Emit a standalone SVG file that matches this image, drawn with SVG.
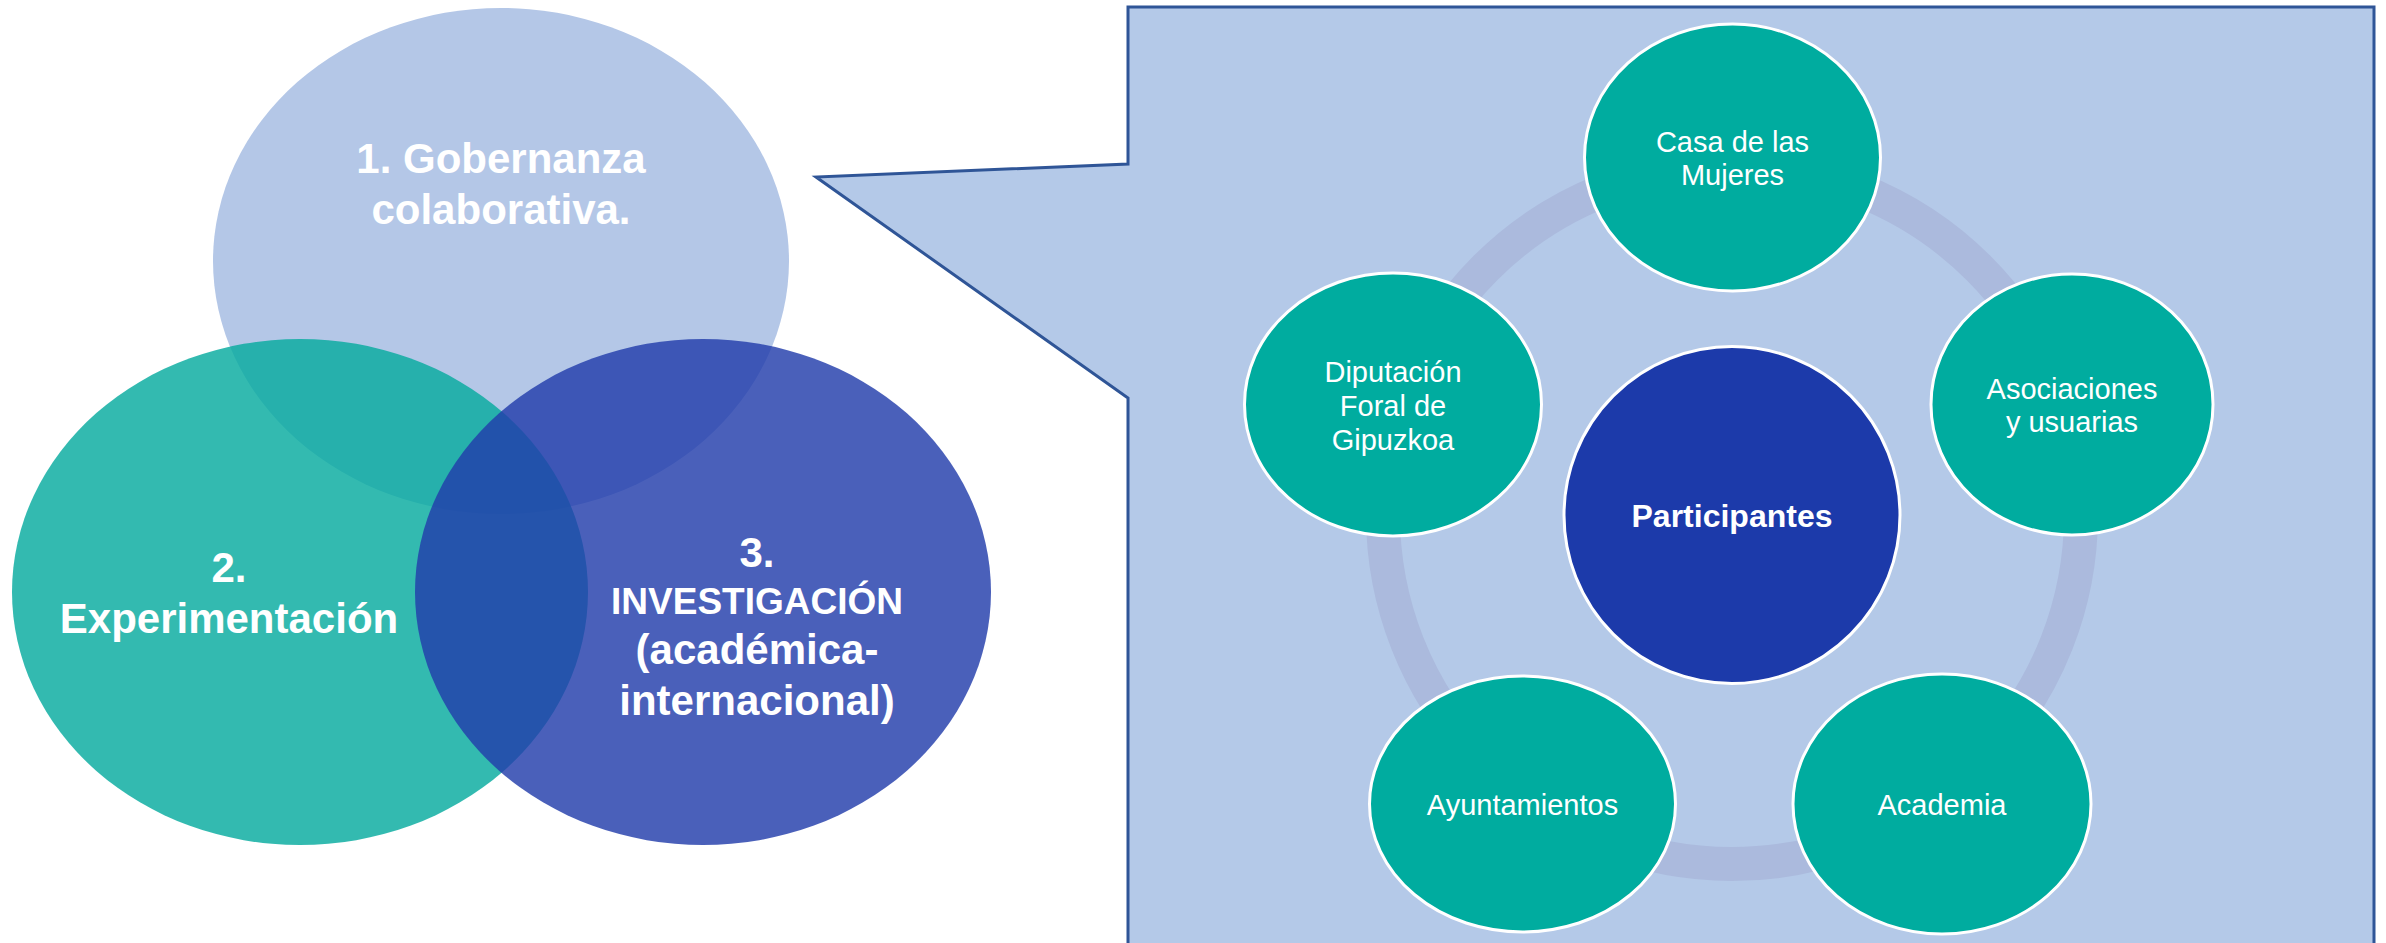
<svg xmlns="http://www.w3.org/2000/svg" width="2386" height="943" viewBox="0 0 2386 943">
  <style>
    .vt { font-family: "Liberation Sans", Arial, sans-serif; font-weight: bold; font-size: 42px; fill: #FFFFFF; text-anchor: middle; }
    .nt { font-family: "Liberation Sans", Arial, sans-serif; font-size: 29px; fill: #FFFFFF; text-anchor: middle; }
    .node { fill: #00AC9F; stroke: #FFFFFF; stroke-width: 3; }
    .center { fill: #1C3AAA; stroke: #FFFFFF; stroke-width: 3; }
  </style>
  <rect width="2386" height="943" fill="#FFFFFF"/>

  <!-- Venn diagram -->
  <g id="venn-gobernanza">
    <ellipse cx="501" cy="261" rx="288" ry="253" fill="#B4C7E7"/>
    <text class="vt" x="501" y="173">1. Gobernanza</text>
    <text class="vt" x="501" y="224">colaborativa.</text>
  </g>
  <g id="venn-experimentacion">
    <ellipse cx="300" cy="592" rx="288" ry="253" fill="#06AB9F" fill-opacity="0.82"/>
  </g>
  <g id="venn-investigacion">
    <ellipse cx="703" cy="592" rx="288" ry="253" fill="#223DAB" fill-opacity="0.82"/>
  </g>
  <g id="venn-labels">
    <text class="vt" x="229" y="582">2.</text>
    <text class="vt" x="229" y="633">Experimentación</text>
    <text class="vt" x="757" y="567">3.</text>
    <text class="vt" x="757" y="614" style="font-size:37px">INVESTIGACIÓN</text>
    <text class="vt" x="757" y="664">(académica-</text>
    <text class="vt" x="757" y="715">internacional)</text>
  </g>

  <!-- Callout panel -->
  <g id="callout">
    <path d="M1128,7 L2374,7 L2374,950 L1128,950 L1128,398 L816,177 L1128,164 Z" fill="#B4C9E8" stroke="#2F5597" stroke-width="3" stroke-linejoin="miter"/>
  </g>

  <!-- Ring connecting the participants -->
  <g id="connectors">
    <circle cx="1732" cy="515" r="349" fill="none" stroke="#ABBADD" stroke-width="34"/>
  </g>

  <g id="node-casa">
    <ellipse class="node" cx="1732.5" cy="157.5" rx="148" ry="133.5"/>
    <text class="nt" x="1732.5" y="152">Casa de las</text>
    <text class="nt" x="1732.5" y="185">Mujeres</text>
  </g>
  <g id="node-diputacion">
    <ellipse class="node" cx="1393" cy="404.5" rx="148.5" ry="131.5"/>
    <text class="nt" x="1393" y="382">Diputación</text>
    <text class="nt" x="1393" y="416">Foral de</text>
    <text class="nt" x="1393" y="450">Gipuzkoa</text>
  </g>
  <g id="node-asociaciones">
    <ellipse class="node" cx="2072" cy="404.5" rx="141" ry="130.5"/>
    <text class="nt" x="2072" y="399">Asociaciones</text>
    <text class="nt" x="2072" y="432">y usuarias</text>
  </g>
  <g id="node-ayuntamientos">
    <ellipse class="node" cx="1522.5" cy="804" rx="153" ry="128"/>
    <text class="nt" x="1522.5" y="815">Ayuntamientos</text>
  </g>
  <g id="node-academia">
    <ellipse class="node" cx="1942" cy="804" rx="149" ry="130"/>
    <text class="nt" x="1942" y="815">Academia</text>
  </g>
  <g id="node-participantes">
    <ellipse class="center" cx="1732" cy="515" rx="168" ry="168.5"/>
    <text class="vt" x="1732" y="527" style="font-size:32px">Participantes</text>
  </g>
</svg>
